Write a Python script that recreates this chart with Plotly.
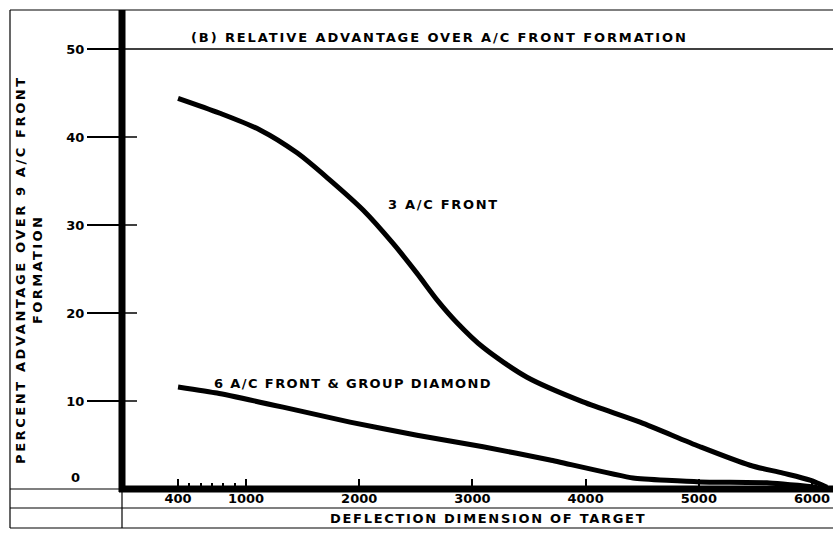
import plotly.graph_objects as go

# ---- data ----
front3_x = [400, 770, 1124, 1451, 1742, 2034, 2299, 2511, 2687, 2864, 3094, 3482, 3977, 4481, 5011, 5452, 5744, 5982, 6132]
front3_y = [44.4, 42.7, 40.8, 38.2, 35.1, 31.7, 27.9, 24.5, 21.5, 18.9, 16.1, 12.7, 9.9, 7.6, 4.8, 2.7, 1.8, 1.0, 0.2]

front6_x = [400, 744, 1327, 1919, 2511, 3094, 3686, 4419, 5011, 5602, 6044]
front6_y = [11.6, 10.9, 9.3, 7.6, 6.1, 4.8, 3.3, 1.25, 0.8, 0.7, 0.2]

x_major = [400, 1000, 2000, 3000, 4000, 5000, 6000]
x_minor = [500, 600, 700, 800, 900]
y_ticks = [10, 20, 30, 40, 50]

title_text = "(B) RELATIVE ADVANTAGE OVER A/C FRONT FORMATION"
ytitle_1 = "PERCENT ADVANTAGE OVER 9 A/C FRONT"
ytitle_2 = "FORMATION"
xtitle = "DEFLECTION DIMENSION OF TARGET"
label_3 = "3 A/C FRONT"
label_6 = "6 A/C FRONT & GROUP DIAMOND"

FONT = "DejaVu Sans"
W, H = 833, 537
L, R, T, B = 122, 0, 10, 48
PW, PH = W - L - R, H - T - B


def px(xpix):
    return (xpix - L) / PW


def py(ypix):
    return (H - B - ypix) / PH


def sp(text, ls=2.0):
    return f'<span style="letter-spacing:{ls}px">{text}</span>'


txtfont = dict(family=FONT, size=13, color="black", weight="bold")

fig = go.Figure()
fig.add_trace(go.Scatter(x=front3_x, y=front3_y, mode="lines",
                         line=dict(color="black", width=5, shape="spline", smoothing=0.8),
                         hoverinfo="skip", showlegend=False))
fig.add_trace(go.Scatter(x=front6_x, y=front6_y, mode="lines",
                         line=dict(color="black", width=5, shape="spline", smoothing=0.4),
                         hoverinfo="skip", showlegend=False))

shapes = []
thin = dict(color="black", width=1.2)
# outer frame lines
shapes.append(dict(type="line", xref="paper", yref="paper", x0=px(10), x1=1, y0=py(10), y1=py(10), line=thin))
shapes.append(dict(type="line", xref="paper", yref="paper", x0=px(10), x1=px(10), y0=py(10), y1=py(528), line=thin))
shapes.append(dict(type="line", xref="paper", yref="paper", x0=px(10), x1=1, y0=py(528), y1=py(528), line=thin))
shapes.append(dict(type="line", xref="paper", yref="paper", x0=px(10), x1=1, y0=py(508), y1=py(508), line=thin))
shapes.append(dict(type="line", xref="paper", yref="paper", x0=px(10), x1=0, y0=py(489), y1=py(489), line=thin))
shapes.append(dict(type="line", xref="paper", yref="paper", x0=0, x1=0, y0=py(489), y1=py(528), line=thin))
# gridline at 50
shapes.append(dict(type="line", xref="paper", yref="y", x0=px(88), x1=1, y0=50, y1=50, line=dict(color="black", width=1.5)))
# inner stubs of y ticks
for v in y_ticks[:-1]:
    shapes.append(dict(type="line", xref="paper", yref="y", x0=0, x1=px(137), y0=v, y1=v, line=dict(color="black", width=1.5)))
# thick axes
shapes.append(dict(type="line", xref="paper", yref="paper", x0=0, x1=0, y0=py(492), y1=1, line=dict(color="black", width=7)))
shapes.append(dict(type="line", xref="paper", yref="paper", x0=px(119), x1=1, y0=py(489), y1=py(489), line=dict(color="black", width=7)))


def ann(text, xp, yp, angle=0):
    return dict(text=text, x=px(xp), y=py(yp), xref="paper", yref="paper", showarrow=False,
                xanchor="center", yanchor="middle", textangle=angle, font=txtfont)


annotations = [
    ann(sp(title_text, 1.9), 439, 38),
    ann(sp(ytitle_1, 2.6), 20, 270, -90),
    ann(sp(ytitle_2, 2.4), 37, 270, -90),
    ann(sp(xtitle, 1.7), 488, 518),
    ann(sp(label_3, 1.7), 443, 205),
    ann(sp(label_6, 1.4), 353, 383),
    ann("0", 75, 477),
]

fig.update_layout(
    width=W, height=H,
    margin=dict(l=L, r=R, t=T, b=B, pad=0),
    paper_bgcolor="white", plot_bgcolor="white",
    shapes=shapes, annotations=annotations,
    font=dict(family=FONT, color="black"),
    xaxis=dict(range=[-95, 6185], showgrid=False, zeroline=False, showline=False,
               tickmode="array", tickvals=x_major, ticktext=[str(v) for v in x_major],
               ticks="inside", ticklen=10, tickwidth=1.5, tickcolor="black",
               minor=dict(tickmode="array", tickvals=x_minor, ticks="inside", ticklen=6,
                          tickwidth=1.5, tickcolor="black", showgrid=False),
               tickfont=txtfont),
    yaxis=dict(range=[0, (H - B - T) / 8.8], showgrid=False, zeroline=False, showline=False,
               tickmode="array", tickvals=y_ticks, ticktext=[str(v) for v in y_ticks],
               ticks="outside", ticklen=34, tickwidth=1.5, tickcolor="black",
               tickfont=txtfont),
)

fig.write_html("out.html", config={"displayModeBar": False},
               post_script="document.body.style.margin='0';document.body.style.overflow='hidden';")
